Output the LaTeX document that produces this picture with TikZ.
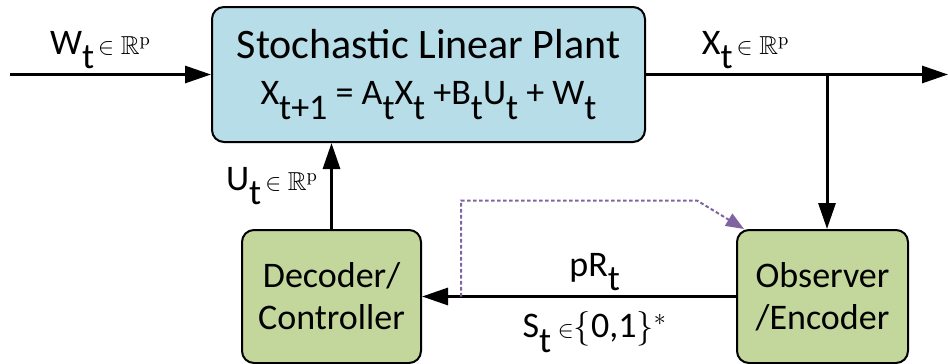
\documentclass[tikz,border=0pt]{standalone}
\usepackage[no-math]{fontspec}
\setmainfont{Carlito}
\usepackage{amssymb}
\usepackage{tikz}
\usetikzlibrary{shapes,arrows.meta}
\definecolor{plantblue}{HTML}{B7DDE8}
\definecolor{boxgreen}{HTML}{C3D69B}
\definecolor{linkpurple}{HTML}{8064A2}
\newcommand{\lo}[1]{\raisebox{-0.4em}{#1}}
\newcommand{\inR}{{\fontsize{13}{15}\selectfont$\,\in\mathbb{R}^{\mathrm{p}}$}}

\begin{document}
\begin{tikzpicture}[node distance=111pt, auto]

% Blokkok stílusai
\tikzstyle{plantbox} = [rectangle, rounded corners=6pt, minimum width=216.5pt, minimum height=67.5pt, text centered, align=center, draw=black, line width=1pt, fill=plantblue, font=\fontsize{18}{23}\selectfont]
\tikzstyle{codecbox} = [rectangle, rounded corners=6pt, minimum height=66.5pt, text centered, align=center, draw=black, line width=1pt, fill=boxgreen, font=\fontsize{18}{21}\selectfont]
\tikzstyle{arrow} = [line width=1.5pt,-{Triangle[length=13pt,width=8.5pt]}]
\tikzstyle{ackline} = [linkpurple, line width=1pt, dash pattern=on 1.8pt off 1.2pt, -{Triangle[length=9pt,width=7pt]}]
\tikzstyle{lbl} = [font=\fontsize{18}{21}\selectfont, inner sep=2pt]

\useasboundingbox (0,0) rectangle (474pt,-182pt);

% Blokkok
\node (plant) [plantbox] at (214.25pt,-37.25pt) {{\fontsize{21}{23}\selectfont Stochastic Linear Plant}\\X\lo{t+1} = A\lo{t}X\lo{t} +B\lo{t}U\lo{t} + W\lo{t}};
\node (dec) [codecbox, minimum width=89.5pt, below of=plant, xshift=-48.5pt] {Decoder/\\Controller};
\node (obs) [codecbox, minimum width=85.5pt, node distance=245.5pt, right of=dec] {Observer\\/Encoder};

% Segédpontok
\coordinate (win) at (5pt,-37.25pt);
\coordinate (xout) at (474pt,-37.25pt);
\coordinate (branch) at (413.5pt,-37.25pt);
\coordinate (tap) at (230.5pt,-148.25pt);
\coordinate (bend) at (348.5pt,-100.25pt);

% Vonalak
\draw [arrow] (win) -- node[lbl, above, pos=0.45] {W\lo{t}\inR} (plant);
\draw [arrow] (plant) -- node[lbl, above, pos=0.33] {X\lo{t}\inR} (xout);
\draw [arrow] (branch) -- (branch |- obs.north);
\draw [arrow] (dec.north) -- node[lbl, left, xshift=-4pt] {U\lo{t}\inR} (dec.north |- plant.south);
\draw [arrow] (obs) -- node[lbl, above, pos=0.45] {pR\lo{t}} node[lbl, below, pos=0.45, yshift=-5pt] {S\lo{t}{\fontsize{13}{15}\selectfont$\;\in$}$\{$0,1$\}^{*}$} (dec);
\draw [ackline] (tap) |- (bend) -- ([xshift=4pt]obs.north west);
\end{tikzpicture}
\end{document}
